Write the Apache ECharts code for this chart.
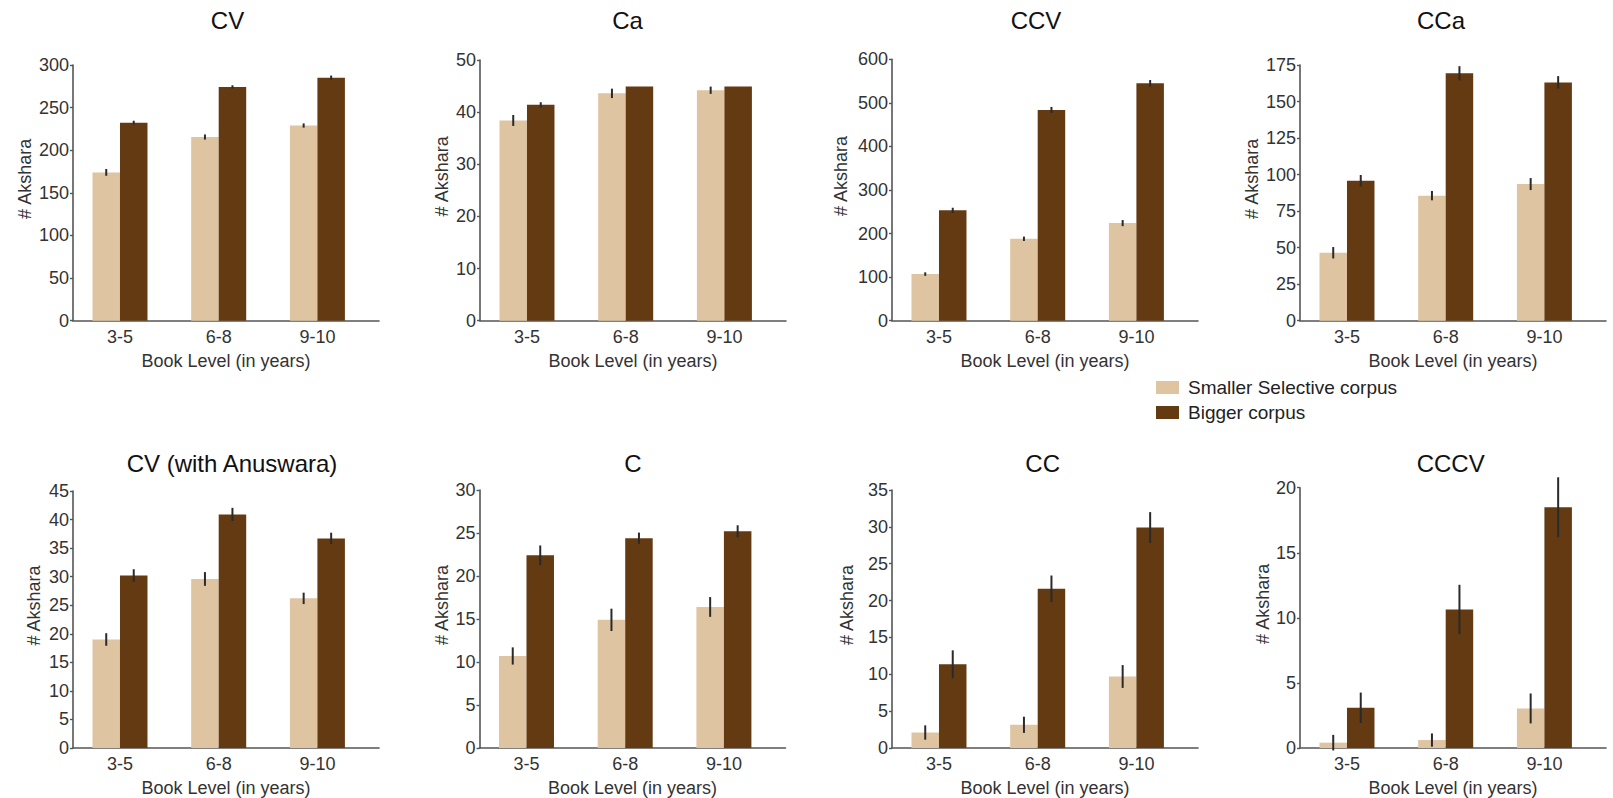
<!DOCTYPE html>
<html>
<head>
<meta charset="utf-8">
<script src="https://cdn.jsdelivr.net/npm/echarts@6/dist/echarts.min.js"></script>
<style>
html,body{margin:0;padding:0;background:#fff;}
#chart{width:1613px;height:798px;}
</style>
</head>
<body>
<div id="chart"></div>
<script>
// ---- data ----
const categories = ['3-5', '6-8', '9-10'];
const panelTitles = ['CV', 'Ca', 'CCV', 'CCa', 'CV (with Anuswara)', 'C', 'CC', 'CCCV'];
const seriesNames = ['Smaller Selective corpus', 'Bigger corpus'];
const yMax = [300, 50, 600, 175, 45, 30, 35, 20];
const yStep = [50, 10, 100, 25, 5, 5, 5, 5];
const smallerMeans = [
  [174, 215.5, 229],
  [38.4, 43.6, 44.2],
  [107, 188, 224],
  [46.5, 85.6, 93.5],
  [19.0, 29.6, 26.2],
  [10.7, 14.9, 16.4],
  [2.1, 3.15, 9.7],
  [0.41, 0.61, 3.04]
];
const biggerMeans = [
  [232.3, 274.2, 285.1],
  [41.4, 44.9, 44.9],
  [253.3, 483.7, 544.9],
  [95.8, 169.3, 163.1],
  [30.2, 40.9, 36.7],
  [22.4, 24.4, 25.2],
  [11.35, 21.6, 29.9],
  [3.09, 10.64, 18.5]
];
const smallerErr = [
  [4, 3, 2.5],
  [1.05, 0.9, 0.7],
  [4, 5, 7],
  [3.9, 3.2, 4.1],
  [1.1, 1.2, 1.0],
  [1.0, 1.3, 1.15],
  [0.97, 1.1, 1.55],
  [0.6, 0.51, 1.15]
];
const biggerErr = [
  [2.3, 2, 2.5],
  [0.5, 0, 0],
  [6, 7, 7.5],
  [3.9, 4.9, 4.3],
  [1.1, 1.15, 1.0],
  [1.15, 0.65, 0.7],
  [1.9, 1.8, 2.1],
  [1.17, 1.9, 2.3]
];

// ---- layout / style ----
const FONT = '"Liberation Sans", Arial, sans-serif';
const LIGHT = '#dfc4a1';
const DARK = '#643a12';
const AXIS = '#555';
const TXT = '#333';
const gridLeft = [73, 480, 892, 1300, 73, 479.5, 892, 1300];
const gridTop = [65, 60, 59.3, 65, 491, 490, 490, 487.7];
const axisBottomY = [320.7, 320.7, 320.7, 320.7, 749, 749, 749, 749];
const gridWidth = 306;
const titleX = [227.5, 627.6, 1036, 1441, 232, 633, 1042.7, 1450.7];
const titleTop = [8, 8, 8, 8, 451, 451, 451, 451];
const yNameGap = [39, 29, 42, 39, 30, 29, 36, 28];
const BAR_W = 27.5;

const grids = [], xAxes = [], yAxes = [], series = [], titles = [];

function errorRenderer(shift) {
  return function (params, api) {
    const x = api.value(0);
    const p1 = api.coord([x, api.value(1)]);
    const p2 = api.coord([x, api.value(2)]);
    return {
      type: 'line',
      shape: { x1: p1[0] + shift, y1: p1[1], x2: p2[0] + shift, y2: p2[1] },
      style: { stroke: '#2a2a2a', lineWidth: 2 }
    };
  };
}

for (let i = 0; i < 8; i++) {
  grids.push({
    left: gridLeft[i], top: gridTop[i], width: gridWidth,
    height: axisBottomY[i] - gridTop[i], containLabel: false
  });
  xAxes.push({
    gridIndex: i, type: 'value', min: -0.476, max: 2.624,
    axisLine: { show: true, onZero: false, lineStyle: { color: AXIS, width: 1.6 } },
    axisTick: { show: false },
    splitLine: { show: false },
    axisLabel: {
      customValues: [0, 1, 2],
      formatter: v => categories[Math.round(v)],
      fontSize: 18, color: TXT, margin: 7, fontFamily: FONT
    },
    name: 'Book Level (in years)', nameLocation: 'middle', nameGap: 31,
    nameTextStyle: { fontSize: 18, color: TXT, fontFamily: FONT }
  });
  yAxes.push({
    gridIndex: i, type: 'value', min: 0, max: yMax[i], interval: yStep[i],
    axisLine: { show: true, onZero: false, lineStyle: { color: AXIS, width: 1.6 } },
    axisTick: { show: true, length: 3, lineStyle: { color: AXIS, width: 1.4 } },
    splitLine: { show: false },
    axisLabel: { fontSize: 18, color: TXT, margin: 4, fontFamily: FONT },
    name: '# Akshara', nameLocation: 'middle', nameGap: yNameGap[i],
    nameTextStyle: { fontSize: 18, color: TXT, fontFamily: FONT, padding: [0, 0, 0, 28] }
  });
  titles.push({
    text: panelTitles[i], left: titleX[i], top: titleTop[i], textAlign: 'center', padding: 0,
    textStyle: { fontSize: 24, fontWeight: 'normal', color: '#111', fontFamily: FONT }
  });
  series.push({
    type: 'bar', name: seriesNames[0], xAxisIndex: i, yAxisIndex: i,
    data: smallerMeans[i].map((v, j) => [j, v]),
    barWidth: BAR_W, barGap: '0%',
    itemStyle: { color: LIGHT }, emphasis: { disabled: true }, silent: true
  });
  series.push({
    type: 'bar', name: seriesNames[1], xAxisIndex: i, yAxisIndex: i,
    data: biggerMeans[i].map((v, j) => [j, v]),
    barWidth: BAR_W, barGap: '0%',
    itemStyle: { color: DARK }, emphasis: { disabled: true }, silent: true
  });
  series.push({
    type: 'custom', xAxisIndex: i, yAxisIndex: i, z: 5, silent: true,
    renderItem: errorRenderer(-BAR_W / 2),
    data: smallerMeans[i].map((v, j) => [j, v - smallerErr[i][j], v + smallerErr[i][j]])
  });
  series.push({
    type: 'custom', xAxisIndex: i, yAxisIndex: i, z: 5, silent: true,
    renderItem: errorRenderer(BAR_W / 2),
    data: biggerMeans[i].map((v, j) => [j, v - biggerErr[i][j], v + biggerErr[i][j]])
  });
}

const chart = echarts.init(document.getElementById('chart'), null, { renderer: 'svg' });
chart.setOption({
  backgroundColor: '#fff',
  animation: false,
  title: titles,
  legend: {
    data: seriesNames, orient: 'vertical', left: 1156, top: 378, padding: 0,
    itemWidth: 23, itemHeight: 13, itemGap: 6, icon: 'rect', selectedMode: false,
    textStyle: { fontSize: 19, color: '#222', fontFamily: FONT, padding: [0, 0, 0, 4] }
  },
  grid: grids,
  xAxis: xAxes,
  yAxis: yAxes,
  series: series
});
</script>
</body>
</html>
